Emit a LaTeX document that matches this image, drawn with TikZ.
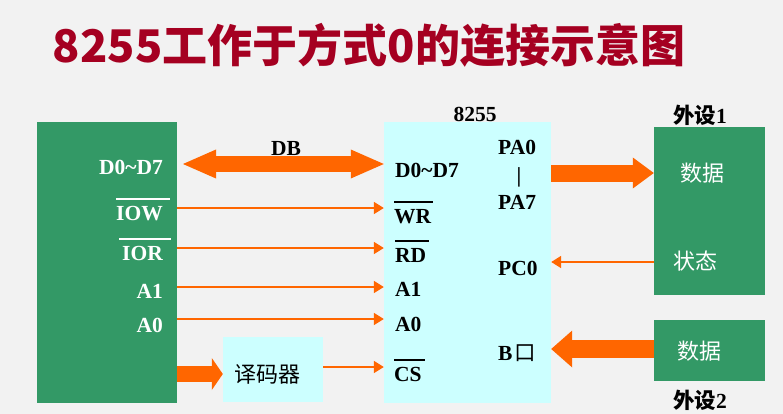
\documentclass[tikz,border=0pt]{standalone}
\usepackage{fontspec}
\usepackage{tikz}
\usetikzlibrary{arrows.meta, positioning, calc}
\setmainfont{Liberation Serif}
\newfontfamily\cjk{Noto Sans CJK SC}
\definecolor{slidegray}{HTML}{F2F2F2}
\definecolor{slidered}{HTML}{A50021}
\definecolor{cpugreen}{HTML}{339966}
\definecolor{chipcyan}{HTML}{CCFFFF}
\definecolor{busorange}{HTML}{FF6600}
% active-low signal: bar over the name
\newcommand{\lowact}[1]{\vbox{\hrule height 2pt\kern 6pt\hbox{#1}}}
\tikzset{
    box/.style={rectangle, inner sep=0pt, anchor=center},
    pin/.style={inner sep=0pt, font=\fontsize{21.5}{24}\selectfont\bfseries},
    tag/.style={inner sep=0pt, font=\fontsize{22}{24}\selectfont\cjk},
    sig/.style={draw=busorange, line width=1.8pt, -{Triangle[width=12pt,length=10pt]}},
    bus/.style={draw=busorange}
}

\begin{document}
\begin{tikzpicture}[x=1pt, y=-1pt]
    \fill[slidegray] (0,0) rectangle (783,414);
    \useasboundingbox (0,0) rectangle (783,414);

    % Title
    \node[inner sep=0pt, anchor=base, text=slidered, font=\fontsize{45}{50}\selectfont\cjk\bfseries] (title) at (369,63) {8255工作于方式0的连接示意图};

    % Boxes
    \node[box, fill=cpugreen, minimum width=140pt, minimum height=281pt] (cpu) at (107,262.5) {};
    \node[box, fill=chipcyan, minimum width=167pt, minimum height=281pt] (chip) at (467.5,262.5) {};
    \node[box, fill=chipcyan, minimum width=100pt, minimum height=65pt] (dec) at (273,369.5) {};
    \node[box, fill=cpugreen, minimum width=111pt, minimum height=168pt] (dev1) at (709.5,211) {};
    \node[box, fill=cpugreen, minimum width=111pt, minimum height=61pt] (dev2) at (709.5,350.5) {};

    % Box titles
    \node[pin, anchor=base] (chipname) at (475,122) {8255};
    \node[pin, anchor=base] (dev1name) at (700,124) {{\cjk\bfseries 外设}1};
    \node[pin, anchor=base] (dev2name) at (700,408) {{\cjk\bfseries 外设}2};

    % CPU side pins
    \node[pin, text=white, anchor=base east] (cpud) at (163,175) {D0\textasciitilde D7};
    \node[pin, text=white, anchor=base east] (cpuiow) at (170,220) {\lowact{IOW\kern7pt}};
    \node[pin, text=white, anchor=base east] (cpuior) at (171,260) {\lowact{\kern3pt IOR\kern8pt}};
    \node[pin, text=white, anchor=base east] (cpua1) at (163,298) {A1};
    \node[pin, text=white, anchor=base east] (cpua0) at (163,332) {A0};

    % 8255 pins
    \node[pin, anchor=base west] (chipd) at (395,177) {D0\textasciitilde D7};
    \node[pin, anchor=base west] (chipwr) at (394,223) {\lowact{WR\kern2pt}};
    \node[pin, anchor=base west] (chiprd) at (395,262) {\lowact{RD\kern3pt}};
    \node[pin, anchor=base west] (chipa1) at (395,296) {A1};
    \node[pin, anchor=base west] (chipa0) at (395,331) {A0};
    \node[pin, anchor=base west] (chipcs) at (394,381) {\lowact{CS\kern3pt}};
    \node[pin, anchor=base west] (chippa0) at (498,154) {PA0};
    \node[pin, anchor=base] (chipdash) at (519,182) {|};
    \node[pin, anchor=base west] (chippa7) at (498,209) {PA7};
    \node[pin, anchor=base west] (chippc0) at (498,275) {PC0};
    \node[pin, anchor=base west] (chipb) at (498,360) {B\kern2pt{\cjk\mdseries 口}};

    % Inner texts
    \node[tag] (decname) at (267,374) {译码器};
    \node[tag, text=white] (dev1data) at (702,173) {数据};
    \node[tag, text=white] (dev1stat) at (695,261) {状态};
    \node[tag, text=white] (dev2data) at (699,351) {数据};

    % Data bus
    \coordinate (dbleft) at (183,164);
    \draw[bus, line width=15pt, {Triangle[width=29pt,length=33pt,line width=0pt]}-{Triangle[width=29pt,length=33pt,line width=0pt]}] (dbleft) -- (chip.west |- dbleft);
    \node[pin, anchor=base] (dbname) at (286,155) {DB};

    % Control and address lines
    \foreach \y in {208,248,287,319}
        \draw[sig] (cpu.east |- 0,\y) -- (chip.west |- 0,\y);
    \draw[bus, line width=16pt, -{Triangle[width=32pt,length=11pt,line width=0pt]}] (cpu.east |- 0,374) -- (dec.west |- 0,374);
    \draw[sig] (dec.east |- 0,367) -- (chip.west |- 0,367);

    % Peripheral side
    \draw[bus, line width=17pt, -{Triangle[width=31pt,length=21pt,line width=0pt]}] (chip.east |- 0,173) -- (dev1.west |- 0,173);
    \draw[sig] (dev1.west |- 0,262) -- (chip.east |- 0,262);
    \draw[bus, line width=18pt, -{Triangle[width=37pt,length=21pt,line width=0pt]}] (dev2.west |- 0,349) -- (chip.east |- 0,349);

\end{tikzpicture}
\end{document}
